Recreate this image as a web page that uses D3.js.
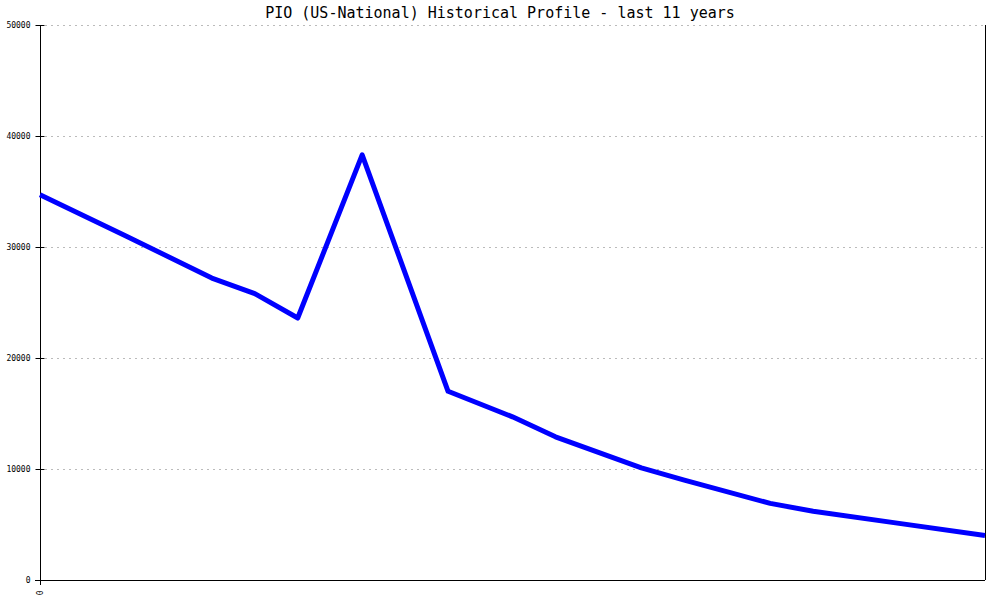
<!DOCTYPE html>
<html>
<head>
<meta charset="utf-8">
<script src="https://cdn.jsdelivr.net/npm/d3@7"></script>
<style>
  body { margin: 0; background: #fff; }
  svg { display: block; }
  .title { font-family: "DejaVu Sans Mono", monospace; font-size: 15px; }
  .tick text { font-family: "DejaVu Sans Mono", monospace; font-size: 8px; }
</style>
</head>
<body>
<svg id="chart"></svg>
<script>
// time offsets (years from start) and values
const years = [0, 1, 2, 2.5, 3, 3.75, 4.75, 5.5, 6, 7, 7.5, 8.5, 9, 10, 11];
const values = [34700, 31000, 27200, 25800, 23600, 38300, 17000, 14700, 12900, 10100, 9000, 6900, 6200, 5100, 4000];
const yTicks = [0, 10000, 20000, 30000, 40000, 50000];
const xTicks = [0];

const width = 1000;
const height = 600;
const margin = { top: 25, right: 15, bottom: 20, left: 40 };

const svg = d3.select("#chart")
    .attr("width", width)
    .attr("height", height);

const x = d3.scaleLinear()
    .domain([0, 11])
    .range([margin.left, width - margin.right]);

const y = d3.scaleLinear()
    .domain([0, 50000])
    .range([height - margin.bottom, margin.top]);

svg.append("text")
    .attr("class", "title")
    .attr("x", width / 2)
    .attr("y", 18)
    .attr("text-anchor", "middle")
    .text("PIO (US-National) Historical Profile - last 11 years");

// dotted gridlines
svg.append("g")
    .selectAll("line")
    .data(yTicks.slice(1))
    .enter()
    .append("line")
    .attr("x1", margin.left + 5)
    .attr("x2", width - margin.right)
    .attr("y1", d => y(d) + 0.5)
    .attr("y2", d => y(d) + 0.5)
    .attr("stroke", "#bbb")
    .attr("stroke-dasharray", "2,4");

// y axis
const yAxis = svg.append("g")
    .attr("transform", "translate(" + (margin.left + 0.5) + ",0)")
    .call(d3.axisLeft(y).tickValues(yTicks).tickSize(5).tickFormat(d3.format("d")));
yAxis.select(".domain").remove();
yAxis.selectAll(".tick line").attr("x2", 4).attr("x1", -5).attr("stroke", "#000");
yAxis.selectAll(".tick text").attr("x", -10).attr("fill", "#000");
yAxis.append("line")
    .attr("y1", margin.top)
    .attr("y2", height - margin.bottom + 5)
    .attr("stroke", "#000");

// x axis
const xAxis = svg.append("g")
    .attr("transform", "translate(0," + (height - margin.bottom + 0.5) + ")")
    .call(d3.axisBottom(x).tickValues(xTicks).tickSize(0).tickFormat(d3.format("d")));
xAxis.select(".domain").remove();
xAxis.append("line")
    .attr("x1", margin.left - 5)
    .attr("x2", width - margin.right)
    .attr("stroke", "#000");
xAxis.selectAll(".tick text")
    .attr("fill", "#000")
    .attr("transform", "rotate(-90)")
    .attr("text-anchor", "end")
    .attr("x", -10)
    .attr("y", 0)
    .attr("dy", "0.32em");

// right border
svg.append("line")
    .attr("x1", width - margin.right + 0.5)
    .attr("x2", width - margin.right + 0.5)
    .attr("y1", margin.top)
    .attr("y2", height - margin.bottom)
    .attr("stroke", "#000");

const line = d3.line()
    .x((d, i) => x(years[i]))
    .y(d => y(d));

svg.append("path")
    .datum(values)
    .attr("fill", "none")
    .attr("stroke", "#0000ff")
    .attr("stroke-width", 5)
    .attr("stroke-linejoin", "round")
    .attr("d", line);
</script>
</body>
</html>
